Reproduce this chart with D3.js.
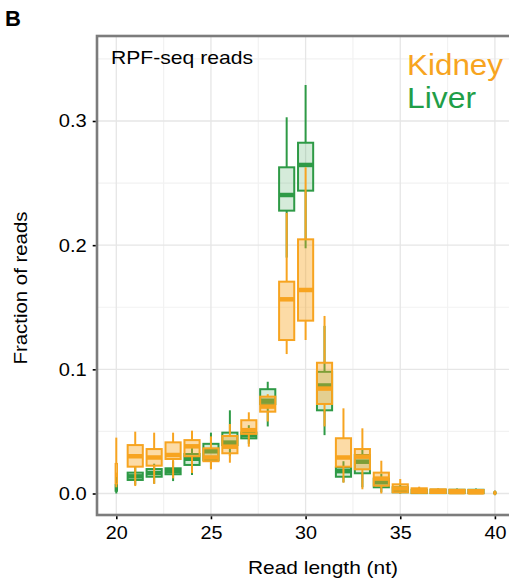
<!DOCTYPE html>
<html>
<head>
<meta charset="utf-8">
<script src="https://cdn.jsdelivr.net/npm/d3@7"></script>
<style>
  html, body { margin: 0; padding: 0; background: #ffffff; }
  svg { display: block; font-family: "Liberation Sans", Arial, Helvetica, sans-serif; }
</style>
</head>
<body>
<svg id="chart" width="509" height="581"></svg>
<script>
// Read length (nt) of ribosome-protected fragments
const readLength = [20, 21, 22, 23, 24, 25, 26, 27, 28, 29, 30, 31, 32, 33, 34, 35, 36, 37, 38, 39, 40];

// Number of samples contributing at each read length (box width ~ sqrt(n))
const sampleCount = [1, 64, 64, 64, 64, 64, 64, 64, 64, 64, 64, 64, 64, 64, 64, 64, 64, 64, 64, 64, 1];

// Kidney: five-number summaries of the fraction of reads per length
const kidneyLow  = [0.005, 0.006, 0.0077, 0.0122, 0.0165, 0.0195, 0.0248, 0.0377, 0.058, 0.1123, 0.1236, 0.054, 0.0087, 0.0034, 0.0, 0.0, 0.0, 0.0, 0.0, 0.0, 0.0];
const kidneyQ1   = [0.008, 0.0216, 0.0224, 0.0278, 0.030, 0.026, 0.0324, 0.048, 0.0659, 0.1236, 0.1392, 0.0721, 0.0216, 0.0195, 0.0063, 0.001, 0.0005, 0.0004, 0.0003, 0.0002, 0.0];
const kidneyMed  = [0.015, 0.030, 0.029, 0.031, 0.038, 0.029, 0.0377, 0.051, 0.070, 0.1564, 0.1639, 0.0845, 0.029, 0.0297, 0.012, 0.004, 0.002, 0.0015, 0.0012, 0.001, 0.0005];
const kidneyQ3   = [0.024, 0.039, 0.0358, 0.0412, 0.043, 0.0364, 0.0463, 0.059, 0.078, 0.1706, 0.2047, 0.1053, 0.0445, 0.0358, 0.0168, 0.0074, 0.0042, 0.0034, 0.003, 0.0028, 0.001];
const kidneyHigh = [0.045, 0.0498, 0.049, 0.049, 0.0506, 0.046, 0.056, 0.0654, 0.080, 0.226, 0.2627, 0.143, 0.0686, 0.0525, 0.0264, 0.0117, 0.0055, 0.004, 0.0035, 0.003, 0.001];

// Liver: five-number summaries of the fraction of reads per length
const liverLow  = [0.0, 0.007, 0.008, 0.010, 0.0149, 0.020, 0.030, 0.040, 0.054, 0.19, 0.1975, 0.047, 0.009, 0.005, 0.001, 0.0, 0.0, 0.0, 0.0, 0.0, 0.0];
const liverQ1   = [0.002, 0.0109, 0.0135, 0.0155, 0.023, 0.027, 0.039, 0.0444, 0.072, 0.2278, 0.2439, 0.067, 0.0135, 0.0163, 0.005, 0.001, 0.0003, 0.0003, 0.0003, 0.0003, 0.0];
const liverMed  = [0.004, 0.0138, 0.0165, 0.018, 0.028, 0.034, 0.041, 0.047, 0.0747, 0.2404, 0.2646, 0.087, 0.018, 0.0256, 0.009, 0.003, 0.0015, 0.0015, 0.0015, 0.0015, 0.0005];
const liverQ3   = [0.007, 0.0168, 0.0197, 0.0203, 0.0318, 0.040, 0.049, 0.049, 0.084, 0.2627, 0.2825, 0.098, 0.021, 0.031, 0.012, 0.005, 0.003, 0.003, 0.003, 0.003, 0.001];
const liverHigh = [0.014, 0.022, 0.024, 0.026, 0.0366, 0.049, 0.067, 0.055, 0.090, 0.303, 0.329, 0.135, 0.026, 0.036, 0.016, 0.007, 0.004, 0.004, 0.004, 0.004, 0.001];

// Axis ticks
const xTicks = [20, 25, 30, 35, 40];
const yTicks = [0.0, 0.1, 0.2, 0.3];
const xMinor = [22.5, 27.5, 32.5, 37.5];
const yMinor = [0.05, 0.15, 0.25, 0.35];

const ORANGE = "#f7a420";
const GREEN = "#2e9a46";

const tissues = [
  { name: "Liver",  color: GREEN, fillOpacity: 0.2,
    low: liverLow, q1: liverQ1, med: liverMed, q3: liverQ3, high: liverHigh },
  { name: "Kidney", color: ORANGE, fillOpacity: 0.4,
    low: kidneyLow, q1: kidneyQ1, med: kidneyMed, q3: kidneyQ3, high: kidneyHigh }
];

const svg = d3.select("#chart");
const panel = { left: 97, top: 36, right: 516, bottom: 515 };

const x = d3.scaleLinear().domain([20, 40]).range([116.3, 494.9]);
const y = d3.scaleLinear().domain([0, 0.3]).range([493.5, 121.0]);
// varwidth-style box widths
const halfW = d3.scaleSqrt().domain([0, d3.max(sampleCount)]).range([0, (x(21) - x(20)) * 0.4]);

// Panel background grid
const grid = svg.append("g");
grid.selectAll(".xminor").data(xMinor).join("line")
  .attr("x1", d => x(d)).attr("x2", d => x(d))
  .attr("y1", panel.top).attr("y2", panel.bottom)
  .attr("stroke", "#f2f2f2").attr("stroke-width", 1.2);
grid.selectAll(".yminor").data(yMinor).join("line")
  .attr("x1", panel.left).attr("x2", panel.right)
  .attr("y1", d => y(d)).attr("y2", d => y(d))
  .attr("stroke", "#f2f2f2").attr("stroke-width", 1.2);
grid.selectAll(".xmajor").data(xTicks).join("line")
  .attr("x1", d => x(d)).attr("x2", d => x(d))
  .attr("y1", panel.top).attr("y2", panel.bottom)
  .attr("stroke", "#e6e6e6").attr("stroke-width", 1.3);
grid.selectAll(".ymajor").data(yTicks).join("line")
  .attr("x1", panel.left).attr("x2", panel.right)
  .attr("y1", d => y(d)).attr("y2", d => y(d))
  .attr("stroke", "#e6e6e6").attr("stroke-width", 1.3);

// Box plots: liver underneath, kidney on top
tissues.forEach(t => {
  const g = svg.append("g").attr("class", "boxes-" + t.name);
  const rows = readLength.map((len, i) => ({
    len, n: sampleCount[i],
    low: t.low[i], q1: t.q1[i], med: t.med[i], q3: t.q3[i], high: t.high[i]
  }));
  const b = g.selectAll("g.box").data(rows).join("g").attr("class", "box");
  b.append("line")
    .attr("x1", d => x(d.len)).attr("x2", d => x(d.len))
    .attr("y1", d => y(d.high)).attr("y2", d => y(d.q3))
    .attr("stroke", t.color).attr("stroke-width", 2);
  b.append("line")
    .attr("x1", d => x(d.len)).attr("x2", d => x(d.len))
    .attr("y1", d => y(d.q1)).attr("y2", d => y(d.low))
    .attr("stroke", t.color).attr("stroke-width", 2);
  b.append("rect")
    .attr("x", d => x(d.len) - halfW(d.n)).attr("width", d => halfW(d.n) * 2)
    .attr("y", d => y(d.q3)).attr("height", d => Math.max(0.5, y(d.q1) - y(d.q3)))
    .attr("fill", t.color).attr("fill-opacity", t.fillOpacity)
    .attr("stroke", t.color).attr("stroke-width", d => d.n < 4 ? 1.5 : 2);
  b.append("line")
    .attr("x1", d => x(d.len) - halfW(d.n)).attr("x2", d => x(d.len) + halfW(d.n))
    .attr("y1", d => y(d.med)).attr("y2", d => y(d.med))
    .attr("stroke", t.color).attr("stroke-width", 4.5);
});

// Panel border
svg.append("rect")
  .attr("x", panel.left).attr("y", panel.top)
  .attr("width", panel.right - panel.left).attr("height", panel.bottom - panel.top)
  .attr("fill", "none").attr("stroke", "#7c7c7c").attr("stroke-width", 2.6);

// Axes
const yAxis = d3.axisLeft(y).tickValues(yTicks).tickFormat(d3.format(".1f"))
  .tickSize(3).tickPadding(6);
const ya = svg.append("g").attr("transform", `translate(${panel.left - 1.3},0)`).call(yAxis);
ya.select(".domain").remove();
ya.selectAll(".tick line").attr("stroke", "#000").attr("stroke-width", 1.6);
ya.selectAll(".tick text").attr("font-size", 18.5).attr("fill", "#000")
  .attr("font-family", "Liberation Sans, Arial, sans-serif")
  .attr("textLength", 28).attr("lengthAdjust", "spacingAndGlyphs");

const xAxis = d3.axisBottom(x).tickValues(xTicks).tickFormat(d3.format("d"))
  .tickSize(3).tickPadding(7);
const xa = svg.append("g").attr("transform", `translate(0,${panel.bottom + 1.3})`).call(xAxis);
xa.select(".domain").remove();
xa.selectAll(".tick line").attr("stroke", "#000").attr("stroke-width", 1.6);
xa.selectAll(".tick text").attr("font-size", 18.5).attr("fill", "#000")
  .attr("font-family", "Liberation Sans, Arial, sans-serif")
  .attr("textLength", 22).attr("lengthAdjust", "spacingAndGlyphs");

// Axis titles
svg.append("text")
  .attr("x", 323).attr("y", 574)
  .attr("text-anchor", "middle").attr("font-size", 19).attr("fill", "#000")
  .attr("textLength", 150).attr("lengthAdjust", "spacingAndGlyphs")
  .text("Read length (nt)");
svg.append("text")
  .attr("transform", "translate(27,288) rotate(-90)")
  .attr("text-anchor", "middle").attr("font-size", 19).attr("fill", "#000")
  .attr("textLength", 153).attr("lengthAdjust", "spacingAndGlyphs")
  .text("Fraction of reads");

// Panel tag and annotation
svg.append("text")
  .attr("x", 5).attr("y", 26)
  .attr("font-size", 22).attr("font-weight", "bold").attr("fill", "#000")
  .text("B");
svg.append("text")
  .attr("x", 111).attr("y", 64)
  .attr("font-size", 19).attr("fill", "#000")
  .attr("textLength", 142).attr("lengthAdjust", "spacingAndGlyphs")
  .text("RPF-seq reads");

// Legend
svg.append("text")
  .attr("x", 407).attr("y", 74.5)
  .attr("font-size", 30).attr("fill", ORANGE)
  .attr("textLength", 96).attr("lengthAdjust", "spacingAndGlyphs")
  .text("Kidney");
svg.append("text")
  .attr("x", 407).attr("y", 108)
  .attr("font-size", 30).attr("fill", "#1f9e48")
  .attr("textLength", 69).attr("lengthAdjust", "spacingAndGlyphs")
  .text("Liver");
</script>
</body>
</html>
